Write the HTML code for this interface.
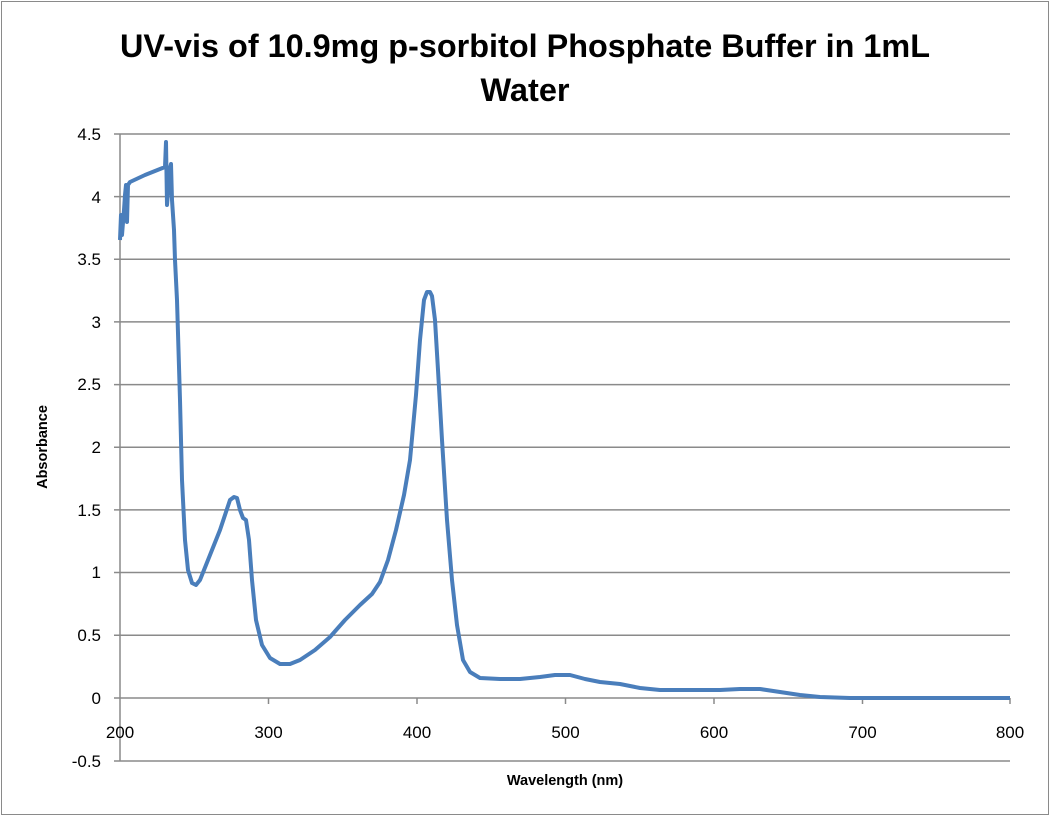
<!DOCTYPE html>
<html><head><style>body{margin:0;background:#fff}svg{display:block}</style></head><body>
<svg width="1050" height="817" xmlns="http://www.w3.org/2000/svg" font-family="Liberation Sans, sans-serif">
<rect x="1.5" y="1.5" width="1047" height="813" fill="#fff" stroke="#8a8a8a" stroke-width="1"/>
<text x="525" y="57" font-size="32.5" font-weight="bold" text-anchor="middle" textLength="810" lengthAdjust="spacingAndGlyphs">UV-vis of 10.9mg p-sorbitol Phosphate Buffer in 1mL</text>
<text x="525" y="101" font-size="32.5" font-weight="bold" text-anchor="middle">Water</text>
<g stroke="#8a8a8a" stroke-width="1.5">
<line x1="114" y1="134" x2="1010" y2="134"/>
<line x1="114" y1="196.6" x2="1010" y2="196.6"/>
<line x1="114" y1="259.3" x2="1010" y2="259.3"/>
<line x1="114" y1="321.9" x2="1010" y2="321.9"/>
<line x1="114" y1="384.6" x2="1010" y2="384.6"/>
<line x1="114" y1="447.2" x2="1010" y2="447.2"/>
<line x1="114" y1="509.9" x2="1010" y2="509.9"/>
<line x1="114" y1="572.5" x2="1010" y2="572.5"/>
<line x1="114" y1="635.2" x2="1010" y2="635.2"/>
<line x1="114" y1="698" x2="1010" y2="698"/>
<line x1="114" y1="761" x2="1010" y2="761"/>
<line x1="120" y1="134" x2="120" y2="761"/>
<line x1="268.5" y1="698" x2="268.5" y2="704"/>
<line x1="417" y1="698" x2="417" y2="704"/>
<line x1="565.5" y1="698" x2="565.5" y2="704"/>
<line x1="714" y1="698" x2="714" y2="704"/>
<line x1="862.5" y1="698" x2="862.5" y2="704"/>
<line x1="1010" y1="698" x2="1010" y2="704"/>
</g>
<g font-size="17" text-anchor="end">
<text x="101" y="140">4.5</text><text x="101" y="203">4</text><text x="101" y="265">3.5</text>
<text x="101" y="328">3</text><text x="101" y="390">2.5</text><text x="101" y="453">2</text>
<text x="101" y="516">1.5</text><text x="101" y="578">1</text><text x="101" y="641">0.5</text>
<text x="101" y="704">0</text><text x="101" y="767">-0.5</text>
</g>
<g font-size="17" text-anchor="middle">
<text x="120" y="738">200</text><text x="268.5" y="738">300</text><text x="417" y="738">400</text>
<text x="565.5" y="738">500</text><text x="714" y="738">600</text><text x="862.5" y="738">700</text><text x="1010" y="738">800</text>
</g>
<text x="565" y="785" font-size="14.5" font-weight="bold" text-anchor="middle">Wavelength (nm)</text>
<text transform="translate(47,447) rotate(-90)" font-size="14.5" font-weight="bold" text-anchor="middle">Absorbance</text>
<polyline fill="none" stroke="#4a7ebb" stroke-width="4" stroke-linejoin="round" points="120,240 121,215 122,235 124,210 125,195 126,185 127,222 128,185 130,182 145,175 165,167 166,142 167,205 170,168 171,164 172,200 174,230 175,260 177,300 180,400 182,480 185,540 188,570 192,583 196,585 200,580 210,555 220,530 226,512 230,500 234,497 237,498 240,510 243,518 246,520 249,540 252,580 256,620 262,645 270,658 280,664 290,664 300,660 315,650 330,637 345,620 360,605 372,594 380,582 388,560 396,530 404,495 410,460 416,395 420,340 424,300 427,292 430,292 432,296 435,320 438,370 442,440 447,520 452,580 457,625 463,660 470,672 480,678 500,679 520,679 540,677 555,675 570,675 585,679 600,682 620,684 640,688 660,690 680,690 700,690 720,690 740,689 760,689 780,692 800,695 820,697 850,698 1010,698"/>
</svg>
</body></html>
